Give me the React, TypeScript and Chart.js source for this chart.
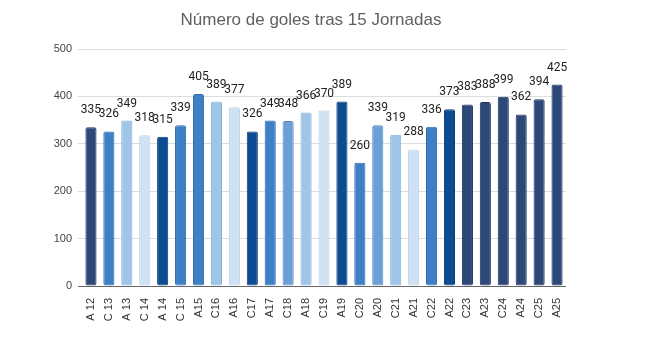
import React, { useEffect, useRef } from "react";
import { Chart, registerables } from "chart.js";

Chart.register(...registerables);

const categories = ["A 12","C 13","A 13","C 14","A 14","C 15","A15","C16","A16","C17","A17","C18","A18","C19","A19","C20","A20","C21","A21","C22","A22","C23","A23","C24","A24","C25","A25"];
const goals = [335,326,349,318,315,339,405,389,377,326,349,348,366,370,389,260,339,319,288,336,373,383,388,399,362,394,425];
const colorKeys = ["navy","mid","light","vlight","dark","mid","mid","light","vlight","dark","mid","mid2","light","vlight","dark","mid","mid2","light","vlight","mid","dark","navy","navy","navy","navy","navy","navy"];
const yTicks = [0, 100, 200, 300, 400, 500];
const title = "Número de goles tras 15 Jornadas";

const palette: Record<string, [string, string]> = {
  navy: ["#2c4878", "#1c3058"],
  dark: ["#0c4c92", "#083670"],
  mid: ["#3e80c6", "#2f68a8"],
  mid2: ["#6c9fd8", "#5587be"],
  light: ["#9fc5e8", "#86afd6"],
  vlight: ["#cfe2f3", "#b8d0e8"],
};

const labelPlugin = {
  id: "valueLabels",
  afterDatasetsDraw(chart: any) {
    const ctx = chart.ctx;
    const meta = chart.getDatasetMeta(0);
    ctx.save();
    ctx.font = "12px Roboto, 'Liberation Sans', sans-serif";
    ctx.fillStyle = "#222222";
    ctx.textAlign = "center";
    ctx.textBaseline = "middle";
    meta.data.forEach((bar: any, i: number) => {
      ctx.fillText(String(goals[i]), bar.x, bar.y - 17);
    });
    ctx.restore();
  },
};

const titlePlugin = {
  id: "customTitle",
  beforeDraw(chart: any) {
    const ctx = chart.ctx;
    ctx.save();
    ctx.font = "17px 'Liberation Sans', Arial, sans-serif";
    ctx.fillStyle = "#5f5f5f";
    ctx.textAlign = "center";
    ctx.textBaseline = "middle";
    ctx.fillText(title, 303, 12);
    ctx.restore();
  },
};

export default function App() {
  const ref = useRef<HTMLCanvasElement>(null);
  useEffect(() => {
    if (!ref.current) return;
    const chart = new Chart(ref.current, {
      type: "bar",
      data: {
        labels: categories,
        datasets: [
          {
            data: goals,
            backgroundColor: colorKeys.map((k) => palette[k][0]),
            borderColor: colorKeys.map((k) => palette[k][1]),
            borderWidth: 1,
            borderRadius: 2,
            borderSkipped: false,
            categoryPercentage: 1,
            barPercentage: 0.62,
          },
        ],
      },
      options: {
        animation: false,
        responsive: false,
        maintainAspectRatio: false,
        layout: { padding: { left: 0, right: 76, top: 41, bottom: 0 } },
        plugins: {
          legend: { display: false },
          tooltip: { enabled: false },
          title: { display: false },
        },
        scales: {
          x: {
            grid: { display: false },
            border: { display: false },
            ticks: {
              color: "#333333",
              font: { family: "'Liberation Sans', Arial, sans-serif", size: 11 },
              minRotation: 90,
              maxRotation: 90,
              autoSkip: false,
              padding: 4,
            },
            afterFit: (scale: any) => {
              scale.height = 70;
            },
          },
          y: {
            min: 0,
            max: 500,
            afterBuildTicks: (scale: any) => {
              scale.ticks = yTicks.map((v) => ({ value: v }));
            },
            grid: {
              color: (c: any) => (c.tick && c.tick.value === 0 ? "#666666" : "#dddddd"),
              drawTicks: true,
              tickLength: 4,
            },
            border: { display: false },
            ticks: {
              color: "#444444",
              font: { family: "'Liberation Sans', Arial, sans-serif", size: 11 },
              padding: 6,
            },
            afterFit: (scale: any) => {
              scale.width = 74;
            },
          },
        },
      },
      plugins: [labelPlugin, titlePlugin],
    });
    return () => chart.destroy();
  }, []);
  return <canvas ref={ref} width={634} height={348} style={{ display: "block" }} />;
}
